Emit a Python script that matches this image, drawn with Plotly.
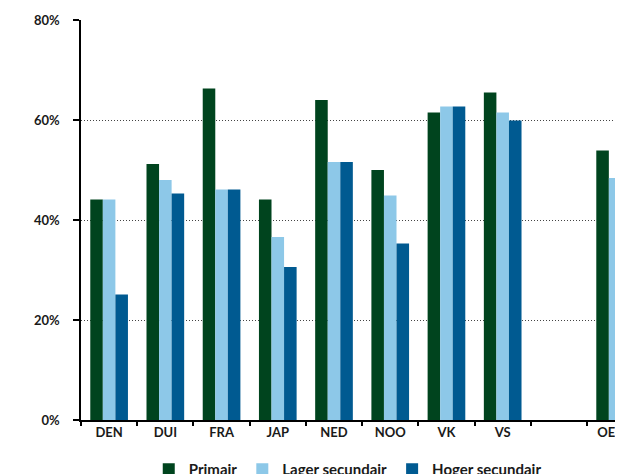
import plotly.graph_objects as go

categories = ["DEN", "DUI", "FRA", "JAP", "NED", "NOO", "VK", "VS", " ", "OESO"]
primair = [44.1, 51.2, 66.3, 44.1, 64.0, 50.0, 61.5, 65.5, None, 53.9]
lager_secundair = [44.1, 48.0, 46.1, 36.6, 51.6, 44.9, 62.7, 61.5, None, 48.4]
hoger_secundair = [25.1, 45.3, 46.1, 30.6, 51.6, 35.3, 62.7, 59.9, None, 45.3]
series_names = ["Primair", "Lager secundair", "Hoger secundair"]
colors = ["#00441E", "#8DC8E8", "#005A91"]
y_ticks = [0, 20, 40, 60, 80]
y_ticktext = ["0%", "20%", "40%", "60%", "80%"]

fig = go.Figure()
for name, vals, col in zip(series_names, [primair, lager_secundair, hoger_secundair], colors):
    fig.add_trace(go.Bar(x=categories, y=vals, name=name, marker=dict(color=col, line=dict(width=0))))

font_family = "Lato, Open Sans, sans-serif"
fig.update_layout(
    width=615, height=466,
    margin=dict(l=73, r=0, t=12, b=54, autoexpand=False),
    plot_bgcolor="white", paper_bgcolor="white",
    barmode="group", bargap=0.33, bargroupgap=0,
    font=dict(family=font_family, size=13, color="#1a1a1a"),
    legend=dict(orientation="h", x=0.125, xanchor="left", y=-0.0825, yanchor="top",
                font=dict(size=15, family=font_family, weight="bold"),
                itemwidth=30, tracegroupgap=0),
    showlegend=True,
)
fig.update_xaxes(
    type="category", categoryorder="array", categoryarray=categories,
    range=[-0.5, 9.14],
    showline=True, linecolor="#000000", linewidth=1.5,
    ticks="outside", tickson="boundaries", ticklen=4, tickcolor="#000000", tickwidth=1.5,
    tickfont=dict(size=13, family=font_family, weight="bold", color="#1a1a1a"),
    showgrid=False,
)
fig.update_yaxes(
    range=[0, 80], tickvals=y_ticks, ticktext=y_ticktext,
    showline=True, linecolor="#000000", linewidth=1.5,
    ticks="outside", ticklen=6, tickcolor="#000000", tickwidth=1.5,
    tickfont=dict(size=13, family=font_family, weight="bold", color="#1a1a1a"),
    showgrid=True, gridcolor="#444444", griddash="1px,2px", gridwidth=1,
    zeroline=False, ticklabelstandoff=11,
)
fig.write_html("out.html")
